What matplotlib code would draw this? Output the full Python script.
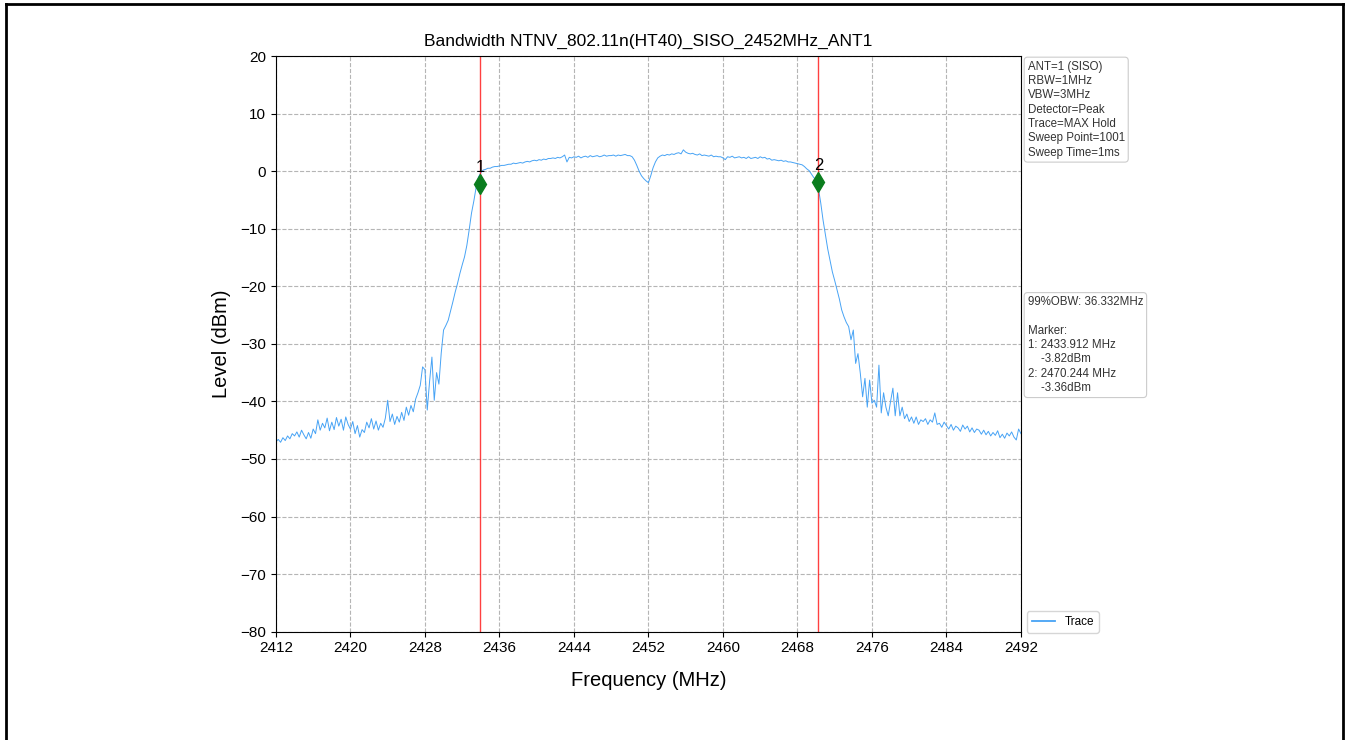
import numpy as np
import matplotlib
matplotlib.use('Agg')
import matplotlib.pyplot as plt
from matplotlib.lines import Line2D

plt.rcParams['font.family'] = ['Liberation Sans', 'DejaVu Sans']

# ========== 数据 ==========
freq_start = 2412.0
freq_stop = 2492.0
# trace level (dBm), read every 0.25 MHz from the screenshot
levels = [
    -47.0, -46.6, -47.1, -46.3, -46.8, -46.0, -46.5, -45.6,   # 2412
    -46.0, -45.3, -46.2, -45.0, -45.8, -46.5, -45.4, -46.4,   # 2414
    -44.8, -45.6, -43.2, -45.0, -43.8, -44.6, -42.9, -45.1,   # 2416
    -43.6, -44.9, -42.8, -44.3, -43.1, -45.0, -42.7, -44.0,   # 2418
    -44.8, -43.5, -45.6, -44.2, -46.2, -44.9, -45.4, -43.6,   # 2420
    -44.6, -43.0, -44.8, -43.4, -45.0, -43.8, -44.5, -42.9,   # 2422
    -39.8, -43.5, -42.2, -44.0, -42.6, -43.6, -41.9, -43.3,   # 2424
    -41.0, -42.4, -40.7, -41.8, -39.6, -38.5, -37.2, -34.0,   # 2426
    -34.5, -41.5, -36.5, -32.3, -39.8, -35.0, -37.0, -31.6,   # 2428
    -27.6, -26.8, -25.9, -24.3, -22.7, -21.0, -19.5, -17.8,   # 2430
    -16.3, -14.9, -12.9, -10.2, -7.3, -5.2, -2.8, -1.0,       # 2432
    -0.3, 0.2, 0.3, 0.5, 0.5, 0.7, 0.8, 0.8,                  # 2434
    0.9, 1.0, 1.0, 1.1, 1.2, 1.2, 1.4, 1.3,                   # 2436
    1.4, 1.5, 1.4, 1.6, 1.7, 1.6, 1.8, 1.9,                   # 2438
    1.8, 2.0, 1.9, 2.1, 2.0, 2.2, 2.2, 2.3,                   # 2440
    2.2, 2.4, 2.3, 2.5, 2.8, 1.6, 2.4, 2.3,                   # 2442
    2.5, 2.4, 2.6, 2.3, 2.5, 2.6, 2.4, 2.7,                   # 2444
    2.5, 2.6, 2.7, 2.5, 2.6, 2.8, 2.6, 2.7,                   # 2446
    2.7, 2.8, 2.6, 2.8, 2.7, 2.8, 2.9, 2.7,                   # 2448
    2.7, 2.5, 1.9, 1.0, 0.0, -0.8, -1.3, -1.7,                # 2450
    -2.0, -0.8, 0.6, 1.6, 2.3, 2.6, 2.8, 2.7,                 # 2452
    2.9, 2.8, 3.0, 2.9, 3.1, 3.2, 3.0, 3.7,                   # 2454
    3.3, 3.1, 3.0, 3.1, 2.9, 2.8, 3.0, 2.7,                   # 2456
    2.8, 2.7, 2.6, 2.8, 2.5, 2.6, 2.5, 2.5,                   # 2458
    2.3, 2.0, 2.5, 2.4, 2.6, 2.3, 2.4, 2.5,                   # 2460
    2.3, 2.4, 2.2, 2.5, 2.2, 2.3, 2.4, 2.2,                   # 2462
    2.5, 2.3, 2.4, 2.1, 2.2, 1.9, 2.0, 1.9,                   # 2464
    1.8, 1.9, 1.7, 1.8, 1.6, 1.6, 1.5, 1.4,                   # 2466
    1.3, 1.2, 1.1, 0.8, 0.4, 0.1, -0.5, -1.1,                 # 2468
    -1.5, -3.0, -5.5, -8.5, -11.0, -13.5, -15.5, -17.5,       # 2470
    -19.0, -20.6, -22.2, -24.1, -25.3, -26.3, -27.0, -29.3,   # 2472
    -27.6, -33.4, -31.7, -35.1, -39.2, -36.0, -41.0, -36.3,   # 2474
    -40.3, -39.8, -41.0, -33.7, -42.0, -38.5, -41.0, -42.5,   # 2476
    -40.0, -37.7, -42.5, -38.5, -42.5, -41.0, -43.0, -42.2,   # 2478
    -43.5, -42.7, -43.8, -42.7, -44.0, -43.2, -43.5, -43.0,   # 2480
    -44.0, -43.2, -43.6, -42.0, -44.0, -43.8, -44.5, -43.6,   # 2482
    -44.2, -44.8, -44.0, -45.0, -44.3, -44.6, -45.2, -44.1,   # 2484
    -44.8, -44.3, -45.3, -44.6, -45.4, -44.8, -45.0, -45.7,   # 2486
    -45.0, -45.8, -45.2, -46.0, -45.4, -45.9, -45.1, -46.3,   # 2488
    -45.7, -46.4, -45.5, -46.0, -45.3, -46.2, -46.7, -44.8,   # 2490
    -45.6,                                                    # 2492
]
freqs = np.linspace(freq_start, freq_stop, len(levels))

marker_freqs = [2433.912, 2470.244]
marker_levels = [-2.2, -1.8]
marker_names = ['1', '2']

xticks = [2412, 2420, 2428, 2436, 2444, 2452, 2460, 2468, 2476, 2484, 2492]
yticks = [20, 10, 0, -10, -20, -30, -40, -50, -60, -70, -80]

info_text = ('ANT=1 (SISO)\nRBW=1MHz\nVBW=3MHz\nDetector=Peak\n'
             'Trace=MAX Hold\nSweep Point=1001\nSweep Time=1ms')
obw_text = ('99%OBW: 36.332MHz\n\nMarker:\n1: 2433.912 MHz\n'
            '    -3.82dBm\n2: 2470.244 MHz\n    -3.36dBm')

# ========== 画图 ==========
fig = plt.figure(figsize=(13.46, 7.40), dpi=100)
ax = fig.add_axes([0.205, 0.1464, 0.5535, 0.7779])

ax.plot(freqs, levels, color='#47a3f5', lw=0.7, label='Trace')

for f, lv, name in zip(marker_freqs, marker_levels, marker_names):
    ax.axvline(f, color='red', lw=1.0, alpha=0.75)
    ax.plot(f, lv, marker='d', color='#0a7d1e', markersize=10, linestyle='none')
    ax.text(f, lv + 1.5, name, ha='center', va='bottom', fontsize=12)

ax.set_xlim(freq_start, freq_stop)
ax.set_ylim(-80, 20)
ax.set_xticks(xticks)
ax.set_yticks(yticks)
ax.tick_params(labelsize=11)
ax.grid(True, linestyle='--', color='#b5b5b5', lw=0.8)
ax.set_xlabel('Frequency (MHz)', fontsize=14.5, labelpad=11)
ax.set_ylabel('Level (dBm)', fontsize=14.5, labelpad=7)
ax.set_title('Bandwidth NTNV_802.11n(HT40)_SISO_2452MHz_ANT1', fontsize=12.5, pad=7)

box = dict(boxstyle='round,pad=0.3', fc='white', ec='#cccccc', lw=0.8)
ax.text(1.009, 0.992, info_text, transform=ax.transAxes, ha='left', va='top',
        fontsize=8.3, linespacing=1.26, color='#333333', bbox=box)
ax.text(1.009, 0.583, obw_text, transform=ax.transAxes, ha='left', va='top',
        fontsize=8.3, linespacing=1.26, color='#333333', bbox=box)

leg = ax.legend(loc='lower left', bbox_to_anchor=(1.0, -0.012), fontsize=8.5,
                frameon=True, edgecolor='#cccccc')
for line in leg.get_lines():
    line.set_linewidth(1.3)

# 外框
for xs, ys in [([6 / 1346, 6 / 1346], [0, 1 - 4 / 740]),
               ([6 / 1346, 1343 / 1346], [1 - 4 / 740, 1 - 4 / 740]),
               ([1343 / 1346, 1343 / 1346], [0, 1 - 4 / 740])]:
    fig.add_artist(Line2D(xs, ys, transform=fig.transFigure, color='black', lw=2))

plt.savefig('out.png', dpi=100)
